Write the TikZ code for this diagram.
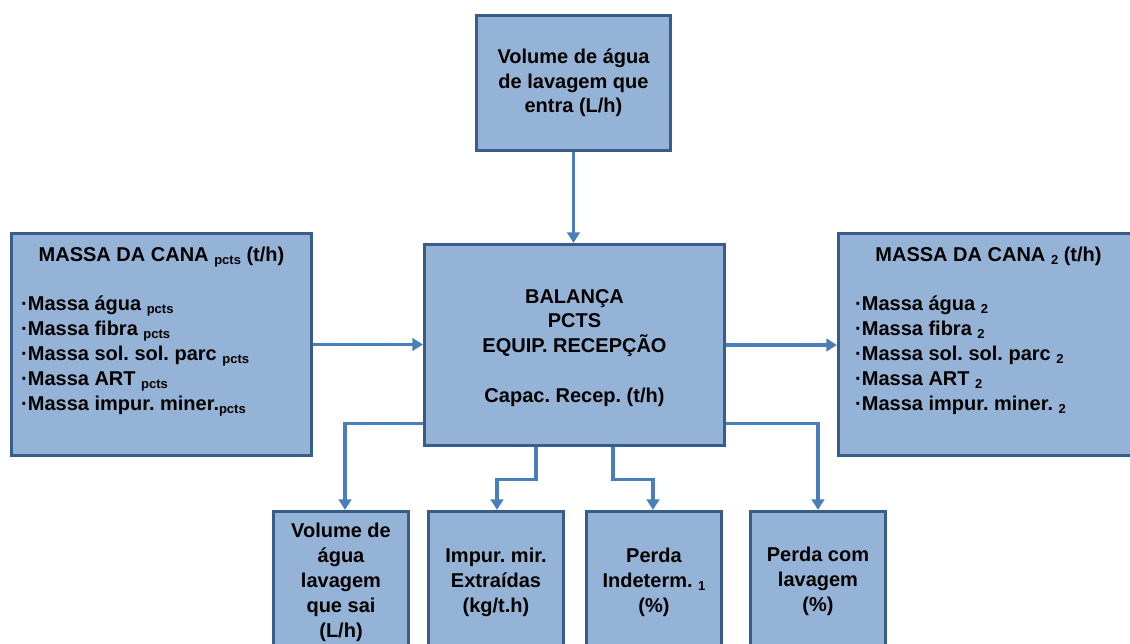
\documentclass[tikz,border=0pt]{standalone}
\usepackage{fontspec}
\setmainfont{Liberation Sans}
\usetikzlibrary{arrows.meta}
\definecolor{boxfill}{HTML}{95B3D7}
\definecolor{boxline}{HTML}{385D8A}
\definecolor{wire}{HTML}{4A7EBB}
\frenchspacing
% lowered, smaller index after a quantity name
\newcommand\lowsub[1]{\raisebox{-3pt}{\fontsize{13}{13}\selectfont #1}}
\begin{document}
\begin{tikzpicture}[x=1pt,y=-1pt,
  blk/.style={draw=boxline, fill=boxfill, line width=3.2pt, rectangle, inner sep=0pt},
  big/.style={blk, minimum width=300pt, minimum height=222pt},
  small/.style={blk, minimum width=135pt, minimum height=167pt},
  txt/.style={inner sep=0pt, anchor=base, align=center, font=\bfseries\fontsize{20}{24.5}\selectfont},
  list/.style={inner sep=0pt, anchor=base west, align=left, font=\bfseries\fontsize{20}{25}\selectfont},
  wire/.style={draw=wire, line width=3.2pt, line join=miter, -{Triangle[length=10.5pt,width=12.5pt]}}]
\path[use as bounding box, clip] (0,0) rectangle (1130,644);

% boxes
\node[blk, minimum width=194pt, minimum height=135pt] (top) at (573.5,83) {};
\node[blk, minimum width=300pt, minimum height=201pt] (ctr) at (574.5,345) {};
\node[big] (left) at (161.5,344.5) {};
\node[big] (right) at (988.5,344.5) {};
\node[small] (b1) at (341,595) {};
\node[small] (b2) at (496,595) {};
\node[small] (b3) at (654,595) {};
\node[small] (b4) at (818,595) {};

% texts (multi-line nodes sit on the baseline of their last line)
\node[txt] (toptxt) at (573.5,113) {Volume de água\\de lavagem que\\entra (L/h)};
\node[txt] (ctrtxt) at (574.5,402) {BALANÇA\\PCTS\\EQUIP. RECEPÇÃO\\[25pt]Capac. Recep. (t/h)};
\node[txt] (lefthead) at (161.5,262) {MASSA DA CANA \lowsub{pcts} (t/h)};
\node[list] (leftlist) at (21,410) {·Massa água \lowsub{pcts}\\·Massa fibra \lowsub{pcts}\\·Massa sol. sol. parc \lowsub{pcts}\\·Massa ART \lowsub{pcts}\\·Massa impur. miner.\lowsub{pcts}};
\node[txt] (righthead) at (988.5,262) {MASSA DA CANA \lowsub{2} (t/h)};
\node[list] (rightlist) at (855,410) {·Massa água \lowsub{2}\\·Massa fibra \lowsub{2}\\·Massa sol. sol. parc \lowsub{2}\\·Massa ART \lowsub{2}\\·Massa impur. miner. \lowsub{2}};
\node[txt, font=\bfseries\fontsize{20}{25}\selectfont] (b1txt) at (341,637) {Volume de\\água\\lavagem\\que sai\\(L/h)};
\node[txt, font=\bfseries\fontsize{20}{25}\selectfont] (b2txt) at (496,612) {Impur. mir.\\Extraídas\\(kg/t.h)};
\node[txt, font=\bfseries\fontsize{20}{25}\selectfont] (b3txt) at (654,612) {Perda\\Indeterm. \lowsub{1}\\(\%)};
\node[txt, font=\bfseries\fontsize{20}{25}\selectfont] (b4txt) at (818,611) {Perda com\\lavagem\\(\%)};

% connectors
\draw[wire] (top.south) -- (top.south |- ctr.north);
\draw[wire] (left.east) -- (left.east -| ctr.west);
\draw[wire] (ctr.east) -- (ctr.east -| right.west);
\draw[wire] ([yshift=24pt]ctr.south west) -| ([xshift=4pt]b1.north);
\draw[wire] ([xshift=-38.5pt]ctr.south) -- ++(0,32) -| ([xshift=1pt]b2.north);
\draw[wire] ([xshift=38.5pt]ctr.south) -- ++(0,32) -| ([xshift=-1pt]b3.north);
\draw[wire] ([yshift=24pt]ctr.south east) -| (b4.north);
\end{tikzpicture}
\end{document}
